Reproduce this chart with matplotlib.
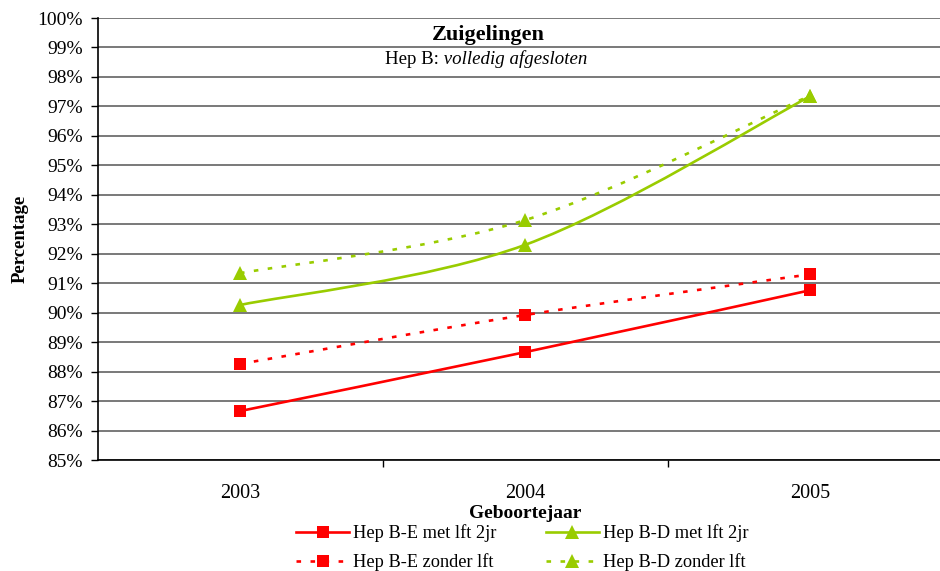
import matplotlib
matplotlib.use("Agg")
import matplotlib.pyplot as plt
from matplotlib.path import Path
from matplotlib.patches import PathPatch
from matplotlib.lines import Line2D
import numpy as np

plt.rcParams['font.family'] = ['Liberation Serif', 'DejaVu Serif']
plt.rcParams['lines.scale_dashes'] = False

years = ['2003', '2004', '2005']
he_met = [86.66, 88.66, 90.76]
he_zonder = [88.26, 89.92, 91.30]
hd_met = [90.26, 92.30, 97.34]
hd_zonder = [91.34, 93.14, 97.36]
yticks = list(range(85, 101))

RED = '#FF0000'
GREEN = '#99CC00'

fig = plt.figure(figsize=(9.4, 5.71), dpi=100)
ax = fig.add_axes([97.5/940, 1-460/571, (952.5-97.5)/940, (460-18)/571])

x = np.arange(1, len(years) + 1)


def smooth_path(xs, ys):
    pts = np.column_stack([xs, ys]).astype(float)
    n = len(pts)
    verts = [pts[0]]
    codes = [Path.MOVETO]
    for i in range(n - 1):
        p0 = pts[i - 1] if i > 0 else pts[i]
        p1 = pts[i]
        p2 = pts[i + 1]
        p3 = pts[i + 2] if i + 2 < n else pts[i + 1]
        c1 = p1 + (p2 - p0) / 6.0
        c2 = p2 - (p3 - p1) / 6.0
        verts += [c1, c2, p2]
        codes += [Path.CURVE4] * 3
    return Path(verts, codes)


series = [
    (he_met, RED, 's', '-', 'Hep B-E met lft 2jr'),
    (hd_met, GREEN, '^', '-', 'Hep B-D met lft 2jr'),
    (he_zonder, RED, 's', (0, (3.3, 6.8)), 'Hep B-E zonder lft'),
    (hd_zonder, GREEN, '^', (0, (3.3, 6.8)), 'Hep B-D zonder lft'),
]

handles = []
for vals, col, mk, ls, lab in series:
    patch = PathPatch(smooth_path(x, vals), facecolor='none', edgecolor=col,
                      linewidth=1.9, linestyle=ls, zorder=3)
    ax.add_patch(patch)
    ms = 9 if mk == 's' else 10
    ax.plot(x, vals, linestyle='none', marker=mk, color=col, markersize=ms,
            markeredgewidth=0, zorder=4)
    handles.append(Line2D([], [], color=col, linewidth=1.9, linestyle=ls,
                          marker=mk, markersize=ms, markeredgewidth=0))

ax.set_xlim(0.5, len(years) + 0.5)
ax.set_ylim(85, 100)
ax.set_yticks(yticks)
ax.set_yticklabels([f'{v}%' for v in yticks], fontsize=14)
ax.set_xticks(x)
ax.set_xticklabels(years, fontsize=14.5)
ax.set_xticks(np.arange(1.5, len(years), 1.0), minor=True)
ax.tick_params(axis='x', which='major', length=0, pad=17)
ax.tick_params(axis='x', which='minor', length=5, width=1, direction='out')
ax.tick_params(axis='y', length=5, width=1, direction='out', pad=5.5)

ax.grid(axis='y', color='#555555', linewidth=1.1, zorder=1)
ax.set_axisbelow(True)
for s in ['top', 'right']:
    ax.spines[s].set_visible(False)
ax.spines['left'].set_linewidth(1.2)
ax.spines['bottom'].set_linewidth(1.2)

ax.set_ylabel('Percentage', fontsize=13.5, fontweight='bold', labelpad=6)
ax.set_xlabel('Geboortejaar', fontsize=14, fontweight='bold', labelpad=2)

fig.text(488/940, 1-35/571, 'Zuigelingen', ha='center', va='center',
         fontsize=16, fontweight='bold')
t1 = fig.text(385/940, 1-60/571, 'Hep B:', ha='left', va='center',
              fontsize=13.6)
fig.add_artist(plt.Annotation(' volledig afgesloten', xy=(1, 0), xycoords=t1,
                              va='bottom', ha='left', fontsize=13.6,
                              style='italic'))

order = [0, 2, 1, 3]
leg = fig.legend([handles[i] for i in order], [series[i][4] for i in order],
                 ncol=2, loc='center', bbox_to_anchor=(522/940, 1-548/571),
                 frameon=False, fontsize=13.2, handlelength=2.9,
                 columnspacing=2.7, labelspacing=0.6, handletextpad=0.2,
                 borderpad=0.2)

fig.savefig('out.png', dpi=100)
